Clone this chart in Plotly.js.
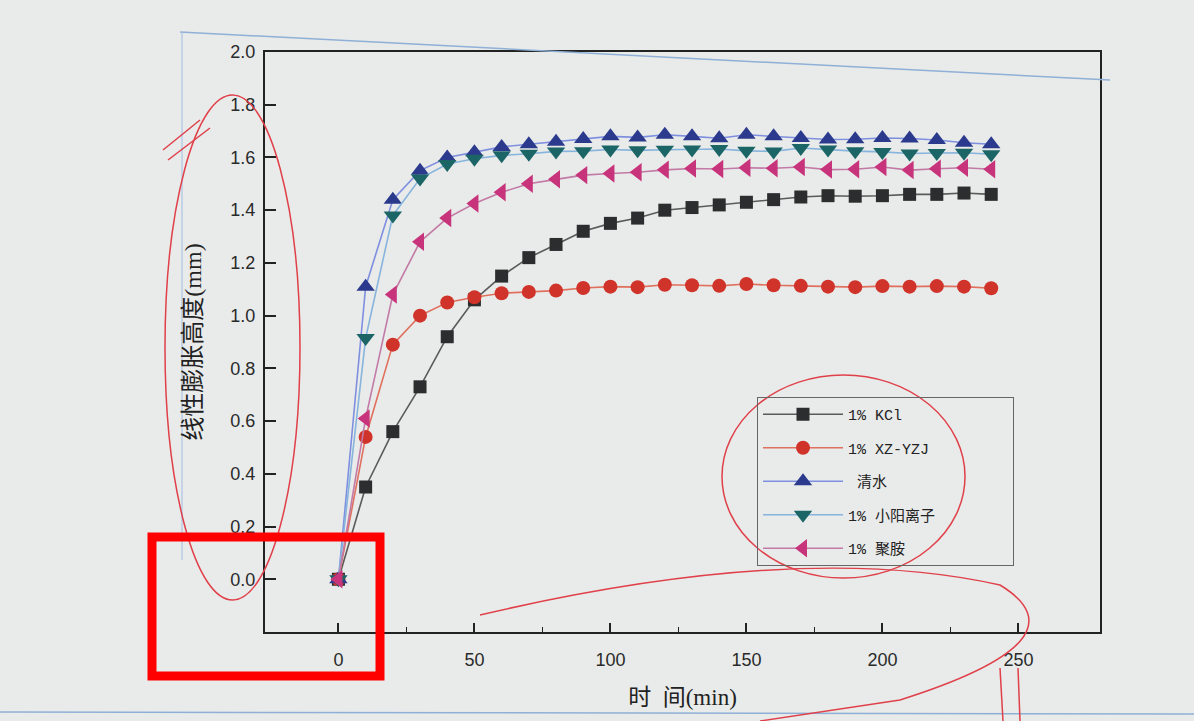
<!DOCTYPE html>
<html>
<head>
<meta charset="utf-8">
<script src="https://cdn.plot.ly/plotly-3.0.1.min.js"></script>
<style>html,body{margin:0;padding:0;background:#e9ebea;}</style>
</head>
<body>
<div id="chart" style="width:1194px;height:721px;"></div>
<script>
// time (min)
const timeMin = [0,10,20,30,40,50,60,70,80,90,100,110,120,130,140,150,160,170,180,190,200,210,220,230,240];

const seriesNames = ["1% KCl", "1% XZ-YZJ", "清水", "1% 小阳离子", "1% 聚胺"];

const kcl = [0,0.35,0.56,0.73,0.92,1.06,1.15,1.22,1.27,1.32,1.35,1.37,1.40,1.41,1.42,1.43,1.44,1.45,1.455,1.453,1.455,1.46,1.46,1.465,1.46];
const xzyzj = [0,0.54,0.89,1.00,1.05,1.07,1.085,1.09,1.095,1.105,1.11,1.108,1.117,1.115,1.113,1.12,1.115,1.113,1.11,1.108,1.112,1.11,1.112,1.11,1.104];
const water = [0,1.11,1.44,1.55,1.60,1.62,1.64,1.65,1.66,1.67,1.68,1.676,1.686,1.68,1.673,1.686,1.68,1.674,1.668,1.669,1.674,1.672,1.666,1.656,1.65];
const smallCation = [0,0.915,1.38,1.52,1.575,1.595,1.608,1.614,1.623,1.624,1.63,1.627,1.629,1.63,1.632,1.625,1.623,1.636,1.63,1.624,1.621,1.615,1.617,1.618,1.612];
const polyamine = [0,0.61,1.08,1.28,1.37,1.425,1.468,1.50,1.517,1.533,1.539,1.544,1.553,1.558,1.556,1.561,1.559,1.564,1.554,1.555,1.564,1.552,1.557,1.561,1.555];

const xTicks = [0,50,100,150,200,250];
const yTicks = [0,0.2,0.4,0.6,0.8,1.0,1.2,1.4,1.6,1.8,2.0];

const values = [kcl, xzyzj, water, smallCation, polyamine];
const styles = [
  {line:'#5a5a5a', marker:'#2b2d2e', symbol:'square', size:13},
  {line:'#e0705e', marker:'#d0332a', symbol:'circle', size:14},
  {line:'#7f8fe0', marker:'#2b3a8c', symbol:'triangle-up', size:16},
  {line:'#86b4dc', marker:'#1c6567', symbol:'triangle-down', size:16},
  {line:'#c27aa6', marker:'#c8347c', symbol:'triangle-left', size:16}
];
// legend label padding (non-breaking spaces) to mimic the wide legend box
const pad = '\u00a0'.repeat(8);
const lead = ['', '', '\u00a0', '', ''];

const traces = values.map((v,i)=>({
  x: timeMin, y: v, name: lead[i] + seriesNames[i] + pad, type:'scatter', mode:'lines+markers',
  legendgroup: 'g'+i,
  line:{color:styles[i].line, width:1.6},
  marker:{symbol:styles[i].symbol, size:styles[i].size, color:styles[i].marker,
          line:{width:0}}
}));

// plot-area pixel box: left 265, right 1100, top 52, bottom 632
const L=265, R=1100, T=52, B=632;
const px = x => (x - L)/(R - L);
const py = y => (B - y)/(B - T);

const layout = {
  width:1194, height:721,
  paper_bgcolor:'#e9ebea', plot_bgcolor:'#e9ebea',
  margin:{l:L, r:1194-R, t:T, b:721-B},
  showlegend:true,
  font:{family:'Liberation Sans, Arial, sans-serif', color:'#2a2a2a'},
  xaxis:{
    range:[-27,280], tickvals:xTicks, ticks:'inside', ticklen:9, tickwidth:2, tickcolor:'#222',
    minor:{tickvals:[25,75,125,175,225], ticks:'inside', ticklen:5, tickwidth:1.5, tickcolor:'#222'},
    showline:true, linewidth:2, linecolor:'#222', mirror:true,
    showgrid:false, zeroline:false,
    tickfont:{size:18, color:'#2a2a2a'}, ticklabelstandoff:10,
    title:{text:'时  间(min)', font:{family:'Liberation Serif, Noto Sans CJK SC, serif', size:23, color:'#222'}, standoff:20}
  },
  yaxis:{
    range:[-0.2,2.0], tickvals:yTicks, tickformat:'.1f', ticks:'inside', ticklen:11, tickwidth:2, tickcolor:'#222',
    showline:true, linewidth:2, linecolor:'#222', mirror:true,
    showgrid:false, zeroline:false,
    tickfont:{size:18, color:'#2a2a2a'}, ticklabelstandoff:4,
    title:{text:'线性膨胀高度(mm)', font:{family:'Liberation Serif, Noto Sans CJK SC, serif', size:24, color:'#222'}, standoff:22}
  },
  legend:{
    x:px(757), y:py(397), xanchor:'left', yanchor:'top',
    bgcolor:'rgba(0,0,0,0)', bordercolor:'#666', borderwidth:1,
    font:{family:'Liberation Mono, Noto Sans CJK SC, monospace', size:15, color:'#222'},
    tracegroupgap:11, traceorder:'grouped', itemwidth:80
  },
  shapes:[
    // photographed page border lines
    {type:'line', xref:'paper', yref:'paper', x0:px(180), y0:py(32), x1:px(1110), y1:py(80), line:{color:'#8fb0d6', width:1.5}},
    {type:'line', xref:'paper', yref:'paper', x0:px(182), y0:py(32), x1:px(182), y1:py(560), line:{color:'#9fbbe0', width:1}},
    {type:'line', xref:'paper', yref:'paper', x0:px(0), y0:py(712), x1:px(1194), y1:py(714), line:{color:'#8fb0d6', width:1.5}},
    // hand-drawn red marks
    {type:'circle', xref:'paper', yref:'paper', x0:px(722), y0:py(578), x1:px(965), y1:py(375), line:{color:'#e0404a', width:1.5}},
    {type:'circle', xref:'paper', yref:'paper', x0:px(165), y0:py(600), x1:px(300), y1:py(95), line:{color:'#e0404a', width:1.5}},
    {type:'path', xref:'paper', yref:'paper',
     path:'M '+px(480)+' '+py(615)+' Q '+px(800)+' '+py(540)+' '+px(1000)+' '+py(585)+' Q '+px(1090)+' '+py(640)+' '+px(900)+' '+py(700)+' L '+px(760)+' '+py(721),
     line:{color:'#e0404a', width:1.5}},
    {type:'line', xref:'paper', yref:'paper', x0:px(163), y0:py(150), x1:px(200), y1:py(120), line:{color:'#e0404a', width:1.5}},
    {type:'line', xref:'paper', yref:'paper', x0:px(168), y0:py(160), x1:px(210), y1:py(128), line:{color:'#e0404a', width:1.5}},
    {type:'line', xref:'paper', yref:'paper', x0:px(1000), y0:py(668), x1:px(1003), y1:py(721), line:{color:'#e0404a', width:1.5}},
    {type:'line', xref:'paper', yref:'paper', x0:px(1018), y0:py(668), x1:px(1020), y1:py(721), line:{color:'#e0404a', width:1.5}},
    // red rectangle
    {type:'rect', xref:'paper', yref:'paper', x0:px(152), y0:py(676), x1:px(380), y1:py(537), line:{color:'#ff0000', width:9}}
  ]
};

Plotly.newPlot('chart', traces, layout, {displayModeBar:false, staticPlot:true});
</script>
</body>
</html>
